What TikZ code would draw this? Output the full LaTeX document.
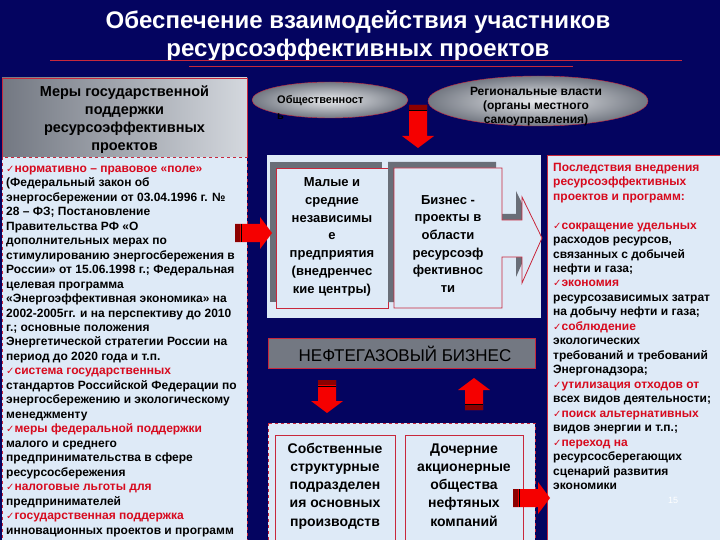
\documentclass[tikz,border=0pt]{standalone}
\usepackage{fontspec}
\setmainfont{Liberation Sans}
\newfontfamily\symfont{DejaVu Sans}

\definecolor{bgnavy}{RGB}{4,4,96}
\definecolor{panelblue}{RGB}{222,234,247}
\definecolor{edgered}{RGB}{200,40,60}
\definecolor{textred}{RGB}{215,10,30}
\definecolor{arrowred}{RGB}{245,0,0}
\definecolor{tailred}{RGB}{140,0,0}
\definecolor{shadowgray}{RGB}{105,110,120}
\definecolor{darkgray}{RGB}{115,120,130}
\definecolor{palegray}{RGB}{212,216,222}

\newcommand\tick{{\symfont\fontsize{10}{10}\selectfont ✓}}
\newcommand\redline[1]{\textcolor{textred}{\tick#1}}

\begin{document}
\begin{tikzpicture}[x=1pt, y=-1pt,
    panel/.style={fill=panelblue, draw=edgered, line width=0.8pt},
    dashpanel/.style={panel, dashed},
    graybox/.style={draw=edgered, line width=0.8pt, left color=darkgray, right color=palegray},
    textblock/.style={inner sep=0pt, align=left, anchor=north west, font=\bfseries\fontsize{12}{14.48}\selectfont},
    boxtext/.style={inner sep=0pt, align=center, anchor=north},
    pics/blockarrow/.style={code={
        \fill[arrowred] (0,-9) -- ({#1-12},-9) -- ({#1-12},-16) -- (#1,0) -- ({#1-12},16) -- ({#1-12},9) -- (0,9) -- cycle;
        \fill[tailred] (0,-9) rectangle (5,9);
        \draw[black, line width=1pt] (6,-9) -- (6,9);
    }}]
    \useasboundingbox (0,0) rectangle (720,540);
    \clip (0,0) rectangle (720,540);

    % Background
    \fill[bgnavy] (0,0) rectangle (720,540);

    % Title and the lines under it
    \node[boxtext, text=white, font=\bfseries\fontsize{24}{28}\selectfont] (title) at (358,8.4)
        {\strut Обеспечение взаимодействия участников\\ресурсоэффективных проектов};
    \draw[edgered, line width=1pt] (50,61) -- (682,61);
    \draw[edgered, line width=1pt] (189,67) -- (573,67);

    % Left column: state support
    \draw[graybox] (2,78) rectangle (247,157);
    \node[boxtext, font=\bfseries\fontsize{14.5}{18}\selectfont] (measures) at (124.5,83.4)
        {\strut Меры государственной\\поддержки\\ресурсоэффективных\\проектов};
    \draw[dashpanel] (2,157) rectangle (247,545);
    \node[textblock] (laws) at (6,161.9) {\strut\redline{нормативно – правовое «поле»}\\
        (Федеральный закон об\\
        энергосбережении от 03.04.1996 г. №\\
        28 – ФЗ; Постановление\\
        Правительства РФ «О\\
        дополнительных мерах по\\
        стимулированию энергосбережения в\\
        России» от 15.06.1998 г.; Федеральная\\
        целевая программа\\
        «Энергоэффективная экономика» на\\
        2002-2005гг. и на перспективу до 2010\\
        г.; основные положения\\
        Энергетической стратегии России на\\
        период до 2020 года и т.п.\\
        \redline{система государственных}\\
        стандартов Российской Федерации по\\
        энергосбережению и экологическому\\
        менеджменту\\
        \redline{меры федеральной поддержки}\\
        малого и среднего\\
        предпринимательства в сфере\\
        ресурсосбережения\\
        \redline{налоговые льготы для}\\
        предпринимателей\\
        \redline{государственная поддержка}\\
        инновационных проектов и программ};

    % Ellipses at the top
    \shadedraw[draw=edgered, inner color=palegray!50!white, outer color=darkgray] (330,100) ellipse (78 and 18);
    \node[inner sep=0pt, align=left, anchor=north west, font=\bfseries\fontsize{11}{16}\selectfont] (public) at (277,91.8)
        {\strut Общественност\\ь};
    \shadedraw[draw=edgered, inner color=palegray!50!white, outer color=darkgray] (538,101) ellipse (110 and 25);
    \node[boxtext, font=\bfseries\fontsize{12}{14}\selectfont] (regional) at (536,85.2)
        {\strut Региональные власти\\(органы местного\\самоуправления)};

    % Center: small business and projects
    \fill[panelblue] (267,155) rectangle (541,318);
    \fill[shadowgray] (270,162) rectangle (382,302);
    \draw[panel] (276,168) rectangle (388,308);
    \fill[shadowgray, shift={(-6,-6)}] (394,168) -- (502,168) -- (502,220) -- (522,220) -- (522,197) -- (542,238)
        -- (522,283) -- (522,257) -- (502,257) -- (502,308) -- (394,308) -- cycle;
    \draw[panel] (394,168) -- (502,168) -- (502,220) -- (522,220) -- (522,197) -- (542,238)
        -- (522,283) -- (522,257) -- (502,257) -- (502,308) -- (394,308) -- cycle;
    \node[boxtext, font=\bfseries\fontsize{13}{17.7}\selectfont] (smallbiz) at (332,174.3)
        {\strut Малые и\\средние\\независимы\\е\\предприятия\\(внедренчес\\кие центры)};
    \node[boxtext, font=\bfseries\fontsize{13}{17.7}\selectfont] (projects) at (448,191.6)
        {\strut Бизнес -\\проекты в\\области\\ресурсоэф\\фективнос\\ти};

    % Oil and gas business bar
    \draw[draw=edgered, line width=0.8pt, left color=darkgray, middle color=palegray, right color=darkgray] (268,338) rectangle (535,368);
    \node[inner sep=0pt, anchor=base, font=\fontsize{17}{20}\selectfont] (oilgas) at (405,361) {НЕФТЕГАЗОВЫЙ БИЗНЕС};

    % Lower center: companies
    \draw[dashpanel] (268,423) rectangle (535,545);
    \shade[left color=panelblue, middle color=shadowgray, right color=panelblue] (395,430) rectangle (405,545);
    \draw[panel] (275,435) rectangle (395,545);
    \draw[panel] (405,435) rectangle (523,545);
    \node[boxtext, font=\bfseries\fontsize{14}{18.2}\selectfont] (ownunits) at (335,440.3)
        {\strut Собственные\\структурные\\подразделен\\ия основных\\производств};
    \node[boxtext, font=\bfseries\fontsize{14}{18.2}\selectfont] (subsid) at (464,440.3)
        {\strut Дочерние\\акционерные\\общества\\нефтяных\\компаний};

    % Right column: results
    \draw[panel] (547,155) rectangle (725,545);
    \node[textblock] (results) at (553,161) {\strut\textcolor{textred}{Последствия внедрения}\\
        \textcolor{textred}{ресурсоэффективных}\\
        \textcolor{textred}{проектов и программ:}\\[14.3pt]
        \redline{сокращение удельных}\\
        расходов ресурсов,\\
        связанных с добычей\\
        нефти и газа;\\
        \redline{экономия}\\
        ресурсозависимых затрат\\
        на добычу нефти и газа;\\
        \redline{соблюдение}\\
        экологических\\
        требований и требований\\
        Энергонадзора;\\
        \redline{утилизация отходов от}\\
        всех видов деятельности;\\
        \redline{поиск альтернативных}\\
        видов энергии и т.п.;\\
        \redline{переход на}\\
        ресурсосберегающих\\
        сценарий развития\\
        экономики};
    \node[text=white, font=\fontsize{9}{9}\selectfont] (pagenum) at (673,500) {15};

    % Red block arrows
    \pic at (235,233) {blockarrow=37};
    \pic[rotate=-90] at (418,105) {blockarrow=43};
    \pic[rotate=-90] at (327,380) {blockarrow=33};
    \pic[rotate=90] at (474,410) {blockarrow=32};
    \pic at (513,498) {blockarrow=37};
\end{tikzpicture}
\end{document}
